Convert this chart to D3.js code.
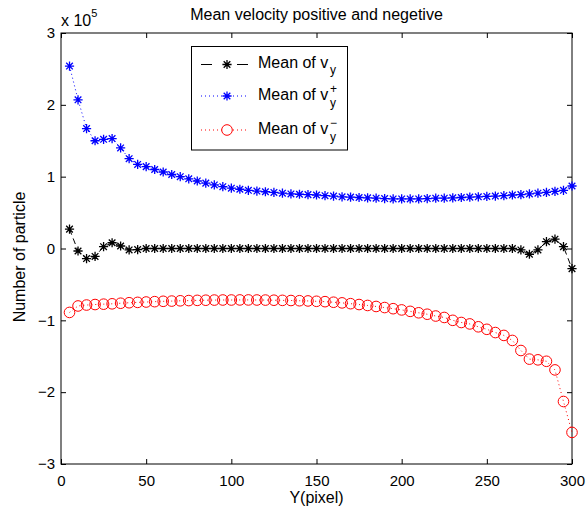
<!DOCTYPE html>
<html><head><meta charset="utf-8">
<script src="https://cdn.jsdelivr.net/npm/d3@7"></script>
<style>body{margin:0;background:#fff}svg{display:block;font-family:"Liberation Sans",Arial,Helvetica,sans-serif}</style>
</head><body><svg id="c" width="587" height="513"></svg>
<script>
// Data (values in units of 1e5)
const yPixel = [5,10,15,20,25,30,35,40,45,50,55,60,65,70,75,80,85,90,95,100,105,110,115,120,125,130,135,140,145,150,155,160,165,170,175,180,185,190,195,200,205,210,215,220,225,230,235,240,245,250,255,260,265,270,275,280,285,290,295,300];
const meanVy = [0.27,-0.035,-0.14,-0.11,0.025,0.08,0.035,-0.02,-0.015,0.0,
  0,0,0,0,0,0,0,0,0,0,0,0,0,0,0,0,0,0,0,0,0,0,0,0,0,0,0,0,0,0,0,0,0,0,0,0,0,0,0,0,0,0,0,
  -0.02,-0.08,-0.02,0.095,0.13,0.025,-0.28];
const meanVyPlus = [2.54,2.07,1.67,1.50,1.52,1.53,1.40,1.25,1.17,1.14,1.10,1.065,1.03,1.00,0.97,0.94,0.91,0.885,0.86,0.84,0.825,0.81,0.80,0.79,0.78,0.77,0.76,0.755,0.75,0.745,0.735,0.73,0.72,0.715,0.71,0.705,0.70,0.695,0.69,0.69,0.69,0.69,0.695,0.70,0.70,0.705,0.71,0.715,0.72,0.725,0.73,0.735,0.745,0.75,0.76,0.77,0.78,0.795,0.81,0.87];
const meanVyMinus = [-0.89,-0.80,-0.787,-0.78,-0.775,-0.77,-0.762,-0.755,-0.75,-0.745,-0.74,-0.735,-0.732,-0.728,-0.725,-0.722,-0.72,-0.718,-0.717,-0.717,-0.716,-0.716,-0.717,-0.718,-0.72,-0.722,-0.724,-0.727,-0.73,-0.735,-0.74,-0.748,-0.757,-0.768,-0.78,-0.793,-0.807,-0.822,-0.838,-0.855,-0.875,-0.895,-0.915,-0.94,-0.96,-1.00,-1.03,-1.05,-1.09,-1.125,-1.17,-1.21,-1.28,-1.42,-1.54,-1.55,-1.57,-1.69,-2.13,-2.56];
const xTicks = [0,50,100,150,200,250,300];
const yTicks = [-3,-2,-1,0,1,2,3];
const titleText = "Mean velocity positive and negetive";
const xLabel = "Y(pixel)";
const yLabel = "Number of particle";

const svg = d3.select("#c");
const L = 61, R = 572, T = 33, B = 464;
const x = d3.scaleLinear().domain([0,300]).range([L,R]);
const y = d3.scaleLinear().domain([-3,3]).range([B,T]);
const fmt = d => d < 0 ? "\u2212" + Math.abs(d) : String(d);

function axis(g, a) {
  g.call(a);
  g.select(".domain").remove();
  g.selectAll(".tick line").attr("stroke", "#000");
  g.selectAll("text").attr("fill", "#000").style("font-size", "15px").style("font-family", "inherit");
}
svg.append("g").attr("transform", `translate(0,${B})`)
  .call(g => axis(g, d3.axisBottom(x).tickValues(xTicks).tickSize(-5).tickPadding(11).tickFormat(fmt)));
svg.append("g").attr("transform", `translate(0,${T})`)
  .call(g => axis(g, d3.axisTop(x).tickValues(xTicks).tickSize(-5).tickFormat("")));
svg.append("g").attr("transform", `translate(${L},0)`)
  .call(g => axis(g, d3.axisLeft(y).tickValues(yTicks).tickSize(-5).tickPadding(6).tickFormat(fmt)));
svg.append("g").attr("transform", `translate(${R},0)`)
  .call(g => axis(g, d3.axisRight(y).tickValues(yTicks).tickSize(-5).tickFormat("")));
svg.append("rect").attr("x", L).attr("y", T).attr("width", R-L).attr("height", B-T)
  .attr("fill", "none").attr("stroke", "#000").attr("stroke-width", 1);

// exponent
const ex = svg.append("text").attr("x", 61).attr("y", 26).style("font-size", "16px");
ex.append("tspan").text("x 10");
ex.append("tspan").attr("dy", -9).style("font-size", "11px").text("5");

svg.append("text").attr("x", (L+R)/2).attr("y", 20).attr("text-anchor", "middle").style("font-size", "16px").text(titleText);
svg.append("text").attr("x", (L+R)/2).attr("y", 503).attr("text-anchor", "middle").style("font-size", "16px").text(xLabel);
svg.append("text").attr("transform", "translate(25,257) rotate(-90)").attr("text-anchor", "middle").style("font-size", "16px").text(yLabel);

const star = r => `M${-r},0H${r}M0,${-r}V${r}M${-r*0.72},${-r*0.72}L${r*0.72},${r*0.72}M${-r*0.72},${r*0.72}L${r*0.72},${-r*0.72}`;

const series = [
  {vals: meanVyPlus, color: "#0000ff", dash: "1,3", marker: "star"},
  {vals: meanVyMinus, color: "#ff0000", dash: "1,3", marker: "circle"},
  {vals: meanVy, color: "#000000", dash: "6,4", marker: "star"}
];
const line = d3.line().x(d => x(d[0])).y(d => y(d[1]));
const plot = svg.append("g");
series.forEach(s => {
  const pts = yPixel.map((p,i) => [p, s.vals[i]]);
  plot.append("path").attr("d", line(pts)).attr("fill", "none").attr("stroke", s.color)
    .attr("stroke-width", 1).attr("stroke-dasharray", s.dash);
  const m = plot.append("g").selectAll("g").data(pts).join("g")
    .attr("transform", d => `translate(${x(d[0])},${y(d[1])})`);
  if (s.marker === "star") {
    m.append("path").attr("d", star(4.6)).attr("fill", "none").attr("stroke", s.color).attr("stroke-width", 1.3);
  } else {
    m.append("circle").attr("r", 5.3).attr("fill", "none").attr("stroke", s.color).attr("stroke-width", 1);
  }
});

// legend
const lg = svg.append("g");
lg.append("rect").attr("x", 191.5).attr("y", 46.5).attr("width", 156).attr("height", 103.5)
  .attr("fill", "#fff").attr("stroke", "#000").attr("stroke-width", 1);
const legendItems = [
  {color: "#000000", dash: "6,4", marker: "star", sup: null, y: 64.5},
  {color: "#0000ff", dash: "1,3", marker: "star", sup: "+", y: 96},
  {color: "#ff0000", dash: "1,3", marker: "circle", sup: "\u2212", y: 130}
];
legendItems.forEach(it => {
  if (it.dash === "6,4") {
    lg.append("line").attr("x1", 201).attr("x2", 212).attr("y1", it.y).attr("y2", it.y).attr("stroke", it.color);
    lg.append("line").attr("x1", 237).attr("x2", 248).attr("y1", it.y).attr("y2", it.y).attr("stroke", it.color);
  } else {
    lg.append("line").attr("x1", 201).attr("x2", 249).attr("y1", it.y).attr("y2", it.y)
      .attr("stroke", it.color).attr("stroke-dasharray", it.dash);
  }
  const g = lg.append("g").attr("transform", `translate(227,${it.y})`);
  if (it.marker === "star") g.append("path").attr("d", star(4.6)).attr("fill", "none").attr("stroke", it.color).attr("stroke-width", 1.3);
  else g.append("circle").attr("r", 5.3).attr("fill", "#fff").attr("stroke", it.color);
  const t = lg.append("text").attr("x", 258).attr("y", it.y + 3.5).style("font-size", "16px");
  t.append("tspan").text("Mean of v");
  if (it.sup) {
    t.append("tspan").attr("x", 330).attr("dy", -7).style("font-size", "12px").text(it.sup);
    t.append("tspan").attr("x", 330).attr("dy", 14).style("font-size", "12px").text("y");
  } else {
    t.append("tspan").attr("x", 330).attr("dy", 6).style("font-size", "12px").text("y");
  }
});
</script></body></html>
